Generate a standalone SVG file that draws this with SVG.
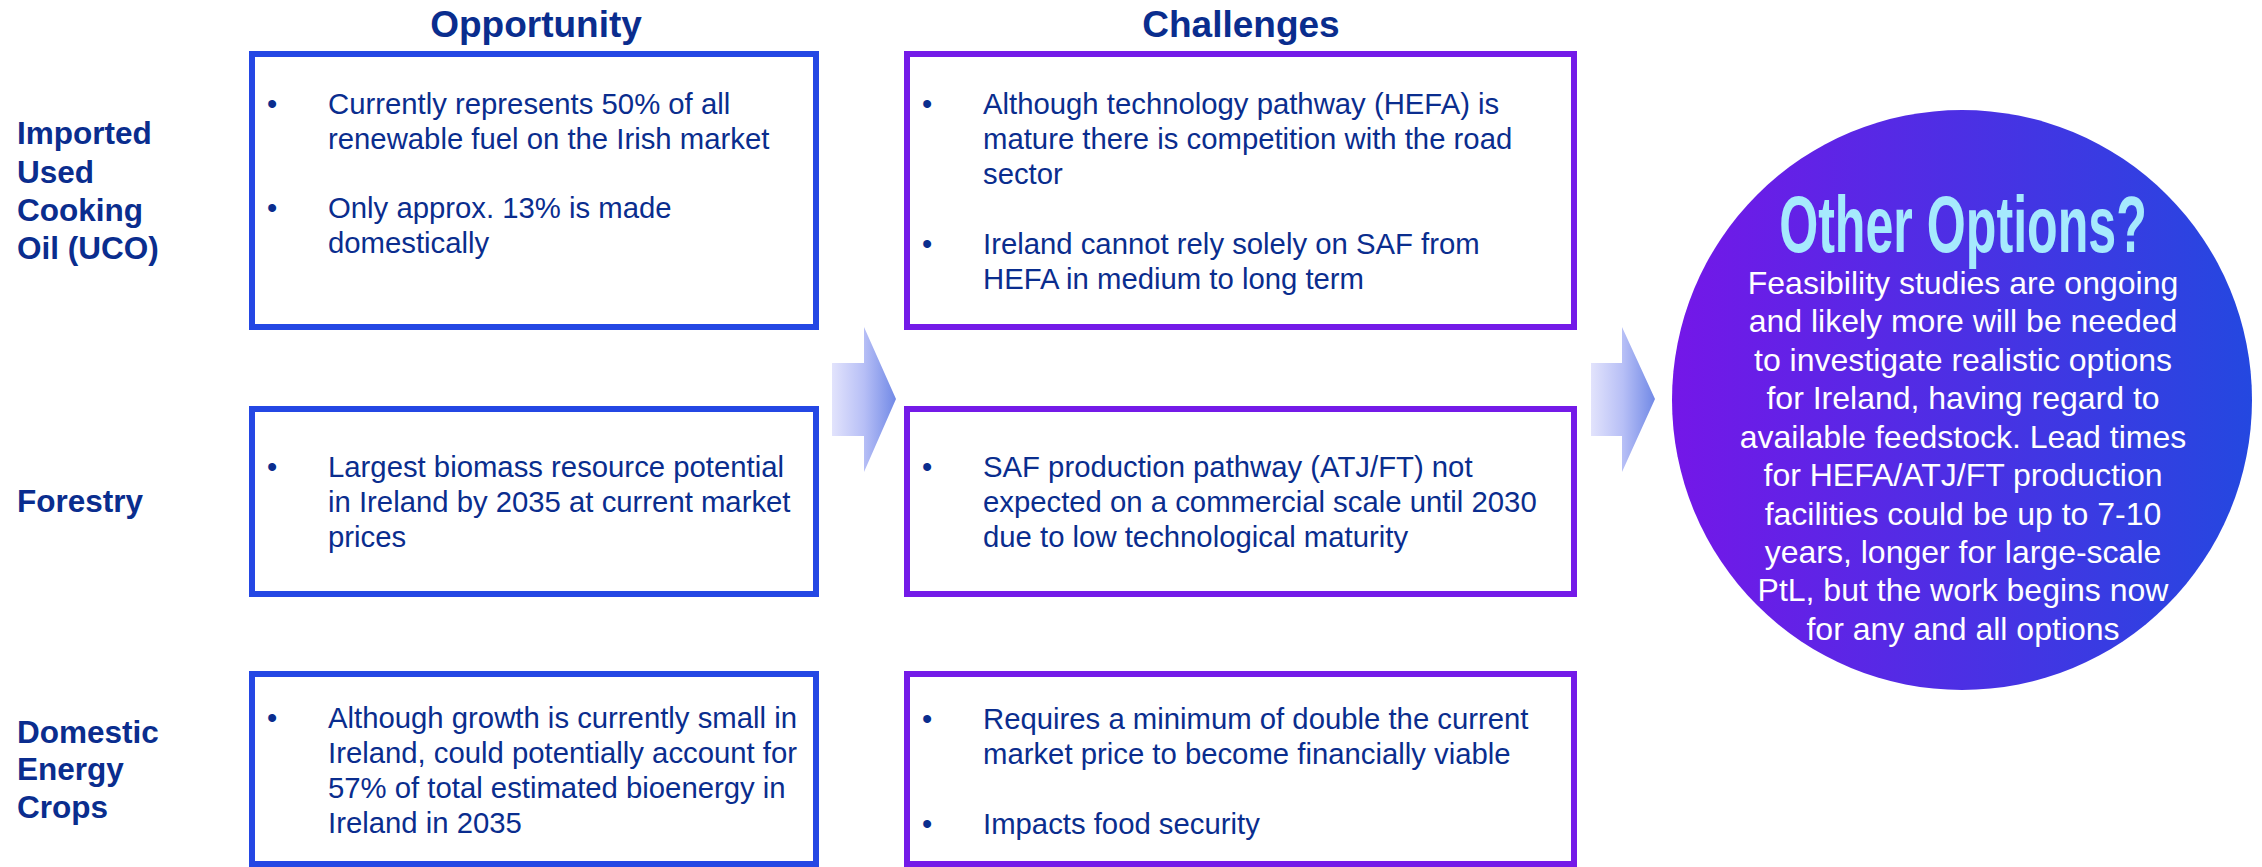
<svg xmlns="http://www.w3.org/2000/svg" width="2262" height="867" viewBox="0 0 2262 867">
  <defs>
    <linearGradient id="arrowGrad" x1="0" y1="0" x2="1" y2="0">
      <stop offset="0" stop-color="#e2e3fc"/>
      <stop offset="0.5" stop-color="#b7bff6"/>
      <stop offset="1" stop-color="#7189e6"/>
    </linearGradient>
    <linearGradient id="circleGrad" x1="0" y1="0" x2="1" y2="0">
      <stop offset="0" stop-color="#7417e8"/>
      <stop offset="1" stop-color="#2448e0"/>
    </linearGradient>
    <style>
      .boxBlue { fill: #ffffff; stroke: #2447e4; stroke-width: 6; }
      .boxPurple { fill: #ffffff; stroke: #741ae8; stroke-width: 6; }
      .title { font-family: "Liberation Sans", Arial, sans-serif; font-weight: bold; font-size: 37px; fill: #0a2d8e; text-anchor: middle; }
      .label { font-family: "Liberation Sans", Arial, sans-serif; font-weight: bold; font-size: 31.5px; fill: #0a2d8e; }
      .body { font-family: "Liberation Sans", Arial, sans-serif; font-size: 29.3px; fill: #0a2d8e; }
      .bullet { font-family: "Liberation Sans", Arial, sans-serif; font-size: 29.3px; fill: #0a2d8e; }
      .circText { font-family: "Liberation Sans", Arial, sans-serif; font-size: 32px; fill: #ffffff; text-anchor: middle; }
      .circTitle { font-family: "Liberation Sans", Arial, sans-serif; font-weight: bold; font-size: 80px; fill: #a6e9fd; text-anchor: middle; }
      .arrow { fill: url(#arrowGrad); }
    </style>
  </defs>
  <rect x="0" y="0" width="2262" height="867" fill="#ffffff"/>

  <g id="titles">
    <text class="title" x="536" y="37">Opportunity</text>
    <text class="title" x="1241" y="37">Challenges</text>
  </g>

  <g id="row-labels">
    <text class="label" x="17" y="144">Imported</text>
    <text class="label" x="17" y="183">Used</text>
    <text class="label" x="17" y="221">Cooking</text>
    <text class="label" x="17" y="259">Oil (UCO)</text>
    <text class="label" x="17" y="512">Forestry</text>
    <text class="label" x="17" y="743">Domestic</text>
    <text class="label" x="17" y="780">Energy</text>
    <text class="label" x="17" y="818">Crops</text>
  </g>

  <g id="opp-uco">
    <rect class="boxBlue" x="252" y="54" width="564" height="273"/>
    <text class="bullet" x="267" y="114">•</text>
    <text class="body" x="328" y="114">Currently represents 50% of all</text>
    <text class="body" x="328" y="149">renewable fuel on the Irish market</text>
    <text class="bullet" x="267" y="218">•</text>
    <text class="body" x="328" y="218">Only approx. 13% is made</text>
    <text class="body" x="328" y="253">domestically</text>
  </g>

  <g id="opp-forestry">
    <rect class="boxBlue" x="252" y="409" width="564" height="185"/>
    <text class="bullet" x="267" y="477">•</text>
    <text class="body" x="328" y="477">Largest biomass resource potential</text>
    <text class="body" x="328" y="512">in Ireland by 2035 at current market</text>
    <text class="body" x="328" y="547">prices</text>
  </g>

  <g id="opp-crops">
    <rect class="boxBlue" x="252" y="674" width="564" height="190"/>
    <text class="bullet" x="267" y="728">•</text>
    <text class="body" x="328" y="728">Although growth is currently small in</text>
    <text class="body" x="328" y="763">Ireland, could potentially account for</text>
    <text class="body" x="328" y="798">57% of total estimated bioenergy in</text>
    <text class="body" x="328" y="833">Ireland in 2035</text>
  </g>

  <g id="chal-uco">
    <rect class="boxPurple" x="907" y="54" width="667" height="273"/>
    <text class="bullet" x="922" y="114">•</text>
    <text class="body" x="983" y="114">Although technology pathway (HEFA) is</text>
    <text class="body" x="983" y="149">mature there is competition with the road</text>
    <text class="body" x="983" y="184">sector</text>
    <text class="bullet" x="922" y="254">•</text>
    <text class="body" x="983" y="254">Ireland cannot rely solely on SAF from</text>
    <text class="body" x="983" y="289">HEFA in medium to long term</text>
  </g>

  <g id="chal-forestry">
    <rect class="boxPurple" x="907" y="409" width="667" height="185"/>
    <text class="bullet" x="922" y="477">•</text>
    <text class="body" x="983" y="477">SAF production pathway (ATJ/FT) not</text>
    <text class="body" x="983" y="512">expected on a commercial scale until 2030</text>
    <text class="body" x="983" y="547">due to low technological maturity</text>
  </g>

  <g id="chal-crops">
    <rect class="boxPurple" x="907" y="674" width="667" height="190"/>
    <text class="bullet" x="922" y="729">•</text>
    <text class="body" x="983" y="729">Requires a minimum of double the current</text>
    <text class="body" x="983" y="764">market price to become financially viable</text>
    <text class="bullet" x="922" y="834">•</text>
    <text class="body" x="983" y="834">Impacts food security</text>
  </g>

  <g id="other-options">
    <circle cx="1962" cy="400" r="290" fill="url(#circleGrad)"/>
    <text class="circTitle" transform="translate(1963,252) scale(0.627,1)" x="0" y="0">Other Options?</text>
    <text class="circText" x="1963" y="294">Feasibility studies are ongoing</text>
    <text class="circText" x="1963" y="332">and likely more will be needed</text>
    <text class="circText" x="1963" y="371">to investigate realistic options</text>
    <text class="circText" x="1963" y="409">for Ireland, having regard to</text>
    <text class="circText" x="1963" y="448">available feedstock. Lead times</text>
    <text class="circText" x="1963" y="486">for HEFA/ATJ/FT production</text>
    <text class="circText" x="1963" y="525">facilities could be up to 7-10</text>
    <text class="circText" x="1963" y="563">years, longer for large-scale</text>
    <text class="circText" x="1963" y="601">PtL, but the work begins now</text>
    <text class="circText" x="1963" y="640">for any and all options</text>
  </g>

  <g id="connectors">
    <polygon class="arrow" points="832,363 864,363 864,327 896,399 864,472 864,436 832,436"/>
    <polygon class="arrow" points="1591,363 1622,363 1622,327 1655,399 1622,472 1622,436 1591,436"/>
  </g>
</svg>
